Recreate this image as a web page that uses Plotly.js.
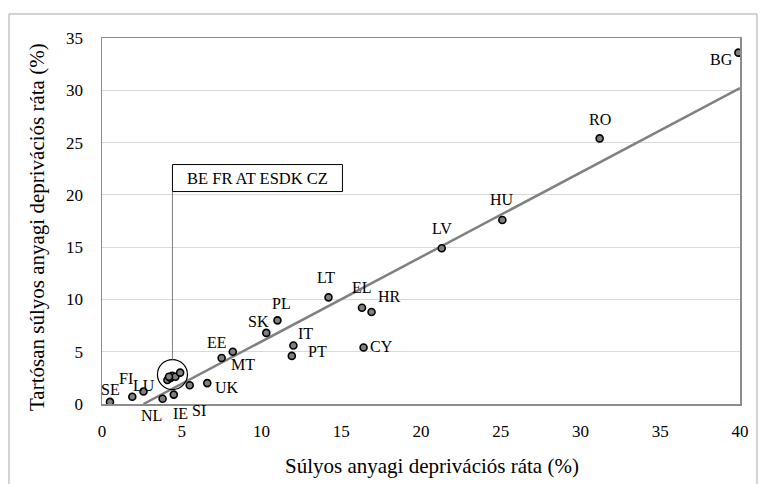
<!DOCTYPE html>
<html>
<head>
<meta charset="utf-8">
<script src="https://cdn.plot.ly/plotly-3.0.1.min.js"></script>
<style>html,body{margin:0;padding:0;background:#fff;}#chart{width:760px;height:484px;}</style>
</head>
<body>
<div id="chart"></div>
<script>
// ---- data ----
const countries = ["BG","RO","HU","LV","LT","EL","HR","CY","PL","SK","IT","PT","EE","MT","UK","SI","IE","NL","LU","FI","SE"];
const deprivation = [39.9,31.2,25.1,21.3,14.2,16.3,16.9,16.4,11.0,10.3,12.0,11.9,7.5,8.2,6.6,5.5,4.5,3.8,2.6,1.9,0.5];
const persistent  = [33.6,25.4,17.6,14.9,10.2,9.2,8.8,5.4,8.0,6.8,5.6,4.6,4.4,5.0,2.0,1.8,0.9,0.5,1.2,0.7,0.2];

const clusterCountries = ["BE","FR","AT","ES","DK","CZ"];
const clusterDeprivation = [4.1,4.3,4.4,4.6,4.9,4.2];
const clusterPersistent  = [2.3,2.5,2.7,2.6,3.0,2.6];

const trendX = [2.6, 40];
const trendY = [0, 30.2];

const xTicks = [0,5,10,15,20,25,30,35,40];
const yTicks = [0,5,10,15,20,25,30,35];

const xTitle = "Súlyos anyagi deprivációs ráta (%)";
const yTitle = "Tartósan súlyos anyagi deprivációs ráta (%)";

// ---- label offsets (pixels: right, up) ----
const labelOffset = {
  BG:[-17,-7], RO:[0,19], HU:[0,20], LV:[0,20], LT:[-2,20], EL:[0,20], HR:[18,15],
  CY:[18,1], PL:[4,17], SK:[-8,11], IT:[12,12], PT:[26,4], EE:[-5,15], MT:[10,-13],
  UK:[20,-4], SI:[9,-25], IE:[7,-19], NL:[-11,-17], LU:[1,6], FI:[-6,18], SE:[1,12]
};

const FONT = "Liberation Serif, Times New Roman, serif";

const markerStyle = {size:7, color:'#808080', line:{color:'#000', width:1.6}};

const traces = [
  {x: trendX, y: trendY, mode:'lines', line:{color:'#808080', width:2.5}, hoverinfo:'skip', showlegend:false},
  {x: deprivation, y: persistent, text: countries, mode:'markers', marker: markerStyle, showlegend:false},
  {x: clusterDeprivation, y: clusterPersistent, text: clusterCountries, mode:'markers', marker: markerStyle, showlegend:false}
];

// plot geometry helpers (pixels per unit)
const L = 102, R = 20, T = 38, B = 80, W = 760, H = 484;
const pxX = (W - L - R) / 40;
const pxY = (H - T - B) / 35;

const annotations = countries.map((c, i) => ({
  x: deprivation[i], y: persistent[i], xref:'x', yref:'y', text: c, showarrow:false,
  xanchor:'center', yanchor:'middle',
  xshift: labelOffset[c][0], yshift: labelOffset[c][1],
  font:{family:FONT, size:16, color:'#000'}
}));

// cluster circle & callout
const cx = clusterDeprivation.reduce((a,b)=>a+b,0)/clusterDeprivation.length;
const cy = clusterPersistent.reduce((a,b)=>a+b,0)/clusterPersistent.length + 0.2;
const rad = 15;
const rx = rad / pxX, ry = rad / pxY;
const boxLeft = cx, boxRight = cx + 170 / pxX;
const boxBottom = cy + ry + 168 / pxY, boxTop = boxBottom + 27 / pxY;

annotations.push({
  x:(boxLeft+boxRight)/2, y:(boxBottom+boxTop)/2, xref:'x', yref:'y',
  text: clusterCountries.slice(0,4).join(' ') + clusterCountries[4] + ' ' + clusterCountries[5],
  showarrow:false, xanchor:'center', yanchor:'middle',
  font:{family:FONT, size:16.5, color:'#000'}
});
annotations.push({
  x: (432 - L) / (W - L - R), y: (H - 466 - B) / (H - T - B) , xref:'paper', yref:'paper',
  text: xTitle, showarrow:false, xanchor:'center', yanchor:'middle',
  font:{family:FONT, size:21, color:'#000'}
});
annotations.push({
  x: (37 - L) / (W - L - R), y: (H - 227 - B) / (H - T - B), xref:'paper', yref:'paper',
  text: yTitle, textangle:-90, showarrow:false, xanchor:'center', yanchor:'middle',
  font:{family:FONT, size:21, color:'#000'}
});

const shapes = [
  // outer chart frame
  {type:'rect', xref:'paper', yref:'paper',
   x0:(9 - L)/(W-L-R), x1:(757 - L)/(W-L-R), y0:(H - 495 - B)/(H-T-B), y1:(H - 14 - B)/(H-T-B),
   line:{color:'#a6a6a6', width:1}, layer:'below'},
  {type:'circle', xref:'x', yref:'y', x0:cx-rx, x1:cx+rx, y0:cy-ry, y1:cy+ry, line:{color:'#000', width:1.2}},
  {type:'line', xref:'x', yref:'y', x0:cx, x1:cx, y0:cy+ry, y1:boxBottom, line:{color:'#808080', width:1}},
  {type:'rect', xref:'x', yref:'y', x0:boxLeft, x1:boxRight, y0:boxBottom, y1:boxTop, line:{color:'#000', width:1}, fillcolor:'#fff'}
];

const layout = {
  width: W, height: H,
  margin:{l:L, r:R, t:T, b:B, pad:0},
  paper_bgcolor:'#fff', plot_bgcolor:'#fff',
  font:{family:FONT, size:17, color:'#000'},
  showlegend:false,
  xaxis:{range:[0,40], tickvals:xTicks, ticktext:xTicks.map(String), showgrid:false, zeroline:false,
         showline:true, mirror:true, linecolor:'#8c8c8c', linewidth:1.5, ticks:'', ticklabelstandoff:11,
         tickfont:{family:FONT, size:17, color:'#000'}, fixedrange:true},
  yaxis:{range:[0,35], tickvals:yTicks, ticktext:yTicks.map(String), showgrid:true, gridcolor:'#d9d9d9', gridwidth:1,
         zeroline:false, showline:true, mirror:true, linecolor:'#8c8c8c', linewidth:1.5, ticks:'', ticklabelstandoff:14,
         tickfont:{family:FONT, size:17, color:'#000'}, fixedrange:true},
  annotations: annotations,
  shapes: shapes
};

Plotly.newPlot('chart', traces, layout, {displayModeBar:false, staticPlot:true});
</script>
</body>
</html>
